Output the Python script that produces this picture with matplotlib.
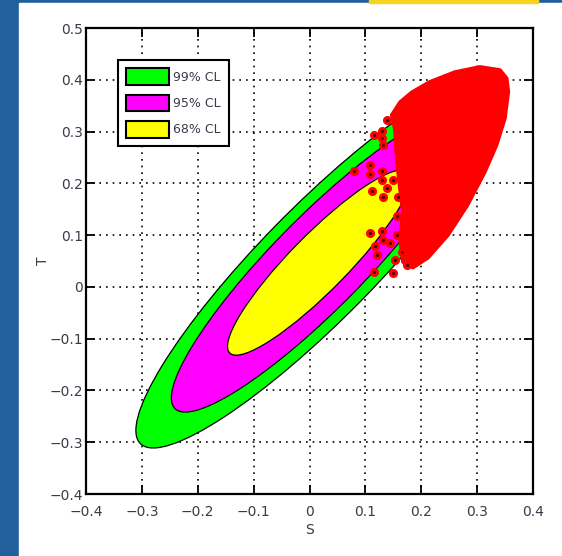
import matplotlib
matplotlib.use("Agg")
import numpy as np
import matplotlib.pyplot as plt
from matplotlib.patches import Ellipse, Rectangle, Polygon

# fit result (S, T) and its gaussian errors
S0 = 0.017
T0 = 0.047
sigma_S = 0.108
sigma_T = 0.118
rho = 0.905

# confidence levels, drawn from outer to inner
cl_labels = ["99% CL", "95% CL", "68% CL"]
cl_dchi2 = [9.21, 5.99, 2.30]
cl_colors = ["#00ff00", "#ff00ff", "#ffff00"]

# outline of the dense red cloud of model points
cloud_S = [0.305, 0.341, 0.353, 0.356, 0.350, 0.335, 0.314, 0.283, 0.248,
           0.212, 0.185, 0.167, 0.162, 0.167, 0.162, 0.156, 0.153, 0.147,
           0.162, 0.183, 0.215, 0.260]
cloud_T = [0.425, 0.419, 0.403, 0.377, 0.326, 0.274, 0.222, 0.158, 0.100,
           0.056, 0.037, 0.048, 0.091, 0.145, 0.187, 0.245, 0.303, 0.332,
           0.357, 0.376, 0.396, 0.415]

# isolated model points left of the cloud
dots_S = [0.139, 0.115, 0.129, 0.129, 0.131, 0.108, 0.080, 0.108, 0.129,
          0.129, 0.139, 0.150, 0.111, 0.132, 0.159, 0.156, 0.108, 0.129,
          0.144, 0.117, 0.132, 0.156, 0.120, 0.165, 0.153, 0.115, 0.150,
          0.174]
dots_T = [0.322, 0.293, 0.302, 0.287, 0.274, 0.236, 0.223, 0.218, 0.223,
          0.207, 0.191, 0.207, 0.186, 0.174, 0.174, 0.136, 0.105, 0.107,
          0.084, 0.079, 0.091, 0.100, 0.062, 0.068, 0.052, 0.028, 0.026,
          0.042]

x_ticks = [-0.4, -0.3, -0.2, -0.1, 0, 0.1, 0.2, 0.3, 0.4]
x_labels = ["\u22120.4", "\u22120.3", "\u22120.2", "\u22120.1", "0", "0.1", "0.2", "0.3", "0.4"]
y_ticks = [-0.4, -0.3, -0.2, -0.1, 0, 0.1, 0.2, 0.3, 0.4, 0.5]
y_labels = ["\u22120.4", "\u22120.3", "\u22120.2", "\u22120.1", "0", "0.1", "0.2", "0.3", "0.4", "0.5"]

plt.rcParams["font.family"] = ["DejaVu Sans"]
txt_color = "#3a3a4a"

fig = plt.figure(figsize=(5.62, 5.56), dpi=100, facecolor="#22609d")
# white slide panel + yellow strip on top
fig.patches.append(Rectangle((19 / 562, 0), 1 - 19 / 562, 1 - 3 / 556,
                             transform=fig.transFigure, color="white", zorder=-10))
fig.patches.append(Rectangle((369 / 562, 1 - 3 / 556), 169 / 562, 3 / 556,
                             transform=fig.transFigure, color="#f7d21e", zorder=-10))

ax = fig.add_axes([86 / 562, 62 / 556, 447 / 562, 466 / 556])
ax.set_axisbelow(True)

# covariance ellipses
cov = np.array([[sigma_S ** 2, rho * sigma_S * sigma_T],
                [rho * sigma_S * sigma_T, sigma_T ** 2]])
vals, vecs = np.linalg.eigh(cov)
angle = np.degrees(np.arctan2(vecs[1, 1], vecs[0, 1]))
handles = []
for lab, d2, col in zip(cl_labels, cl_dchi2, cl_colors):
    e = Ellipse((S0, T0), 2 * np.sqrt(vals[1] * d2), 2 * np.sqrt(vals[0] * d2),
                angle=angle, facecolor=col, edgecolor="black", lw=0.9,
                label=lab, zorder=2)
    ax.add_patch(e)
    handles.append(e)

cloud = Polygon(np.column_stack([cloud_S, cloud_T]), closed=True,
                facecolor="#ff0000", edgecolor="#ff0000", lw=2.5,
                joinstyle="round", zorder=3)
ax.add_patch(cloud)
ax.plot(dots_S, dots_T, "o", ms=5.5, mfc="#ff0000", mec="#ff0000", ls="none", zorder=4)
ax.plot(dots_S, dots_T, ".", ms=2.5, color="#400000", ls="none", zorder=5)

ax.set_xlim(-0.4, 0.4)
ax.set_ylim(-0.4, 0.5)
ax.set_xticks(x_ticks)
ax.set_xticklabels(x_labels)
ax.set_yticks(y_ticks)
ax.set_yticklabels(y_labels)
ax.tick_params(direction="in", length=6.5, width=1.3, top=True, right=True,
               labelsize=10, labelcolor=txt_color)
ax.tick_params(axis="x", pad=8)
ax.tick_params(axis="y", pad=2)
ax.grid(True, color="black", linestyle=(0, (1, 3)), lw=1.2)
for sp in ax.spines.values():
    sp.set_linewidth(1.6)

ax.set_xlabel("S", fontsize=10, color=txt_color, labelpad=3)
ax.set_ylabel("T", fontsize=10, color=txt_color, labelpad=0)

leg = ax.legend(handles=handles, loc="upper left", bbox_to_anchor=(0.0716, 0.931),
                borderaxespad=0, fancybox=False, framealpha=1, edgecolor="black",
                fontsize=9, handlelength=3.4, handleheight=1.7, handletextpad=0.35,
                labelspacing=0.75, borderpad=0.65)
leg.get_frame().set_linewidth(1.5)
for t in leg.get_texts():
    t.set_color(txt_color)
for p in leg.get_patches():
    p.set_linewidth(1.5)

fig.savefig("out.png", dpi=100, facecolor=fig.get_facecolor())
